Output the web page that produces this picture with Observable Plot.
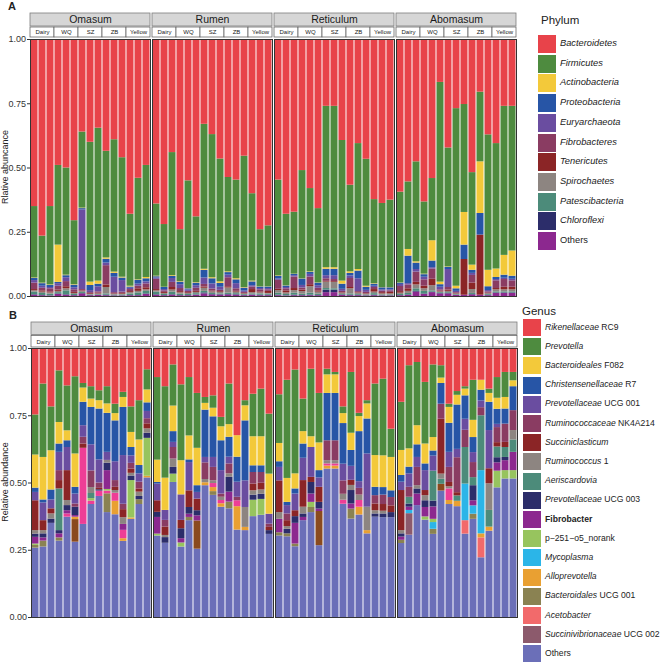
<!DOCTYPE html>
<html><head><meta charset="utf-8">
<script src="https://cdn.jsdelivr.net/npm/d3@7"></script>
<script src="https://cdn.jsdelivr.net/npm/@observablehq/plot@0.6"></script>
<style>
body{margin:0;background:#fff;font-family:"Liberation Sans",Arial,sans-serif;color:#222;}
#root{position:relative;width:666px;height:665px;overflow:hidden;background:#fff;}
.abs{position:absolute;}
.panel-tag{position:absolute;font-weight:bold;font-size:11px;}
.ylab{position:absolute;font-size:9px;transform:translate(-50%,-50%) rotate(-90deg);white-space:nowrap;}
.lg-title{position:absolute;font-size:11.5px;}
.sw{position:absolute;}
.lb{position:absolute;font-size:9.3px;white-space:nowrap;line-height:1;}
.lb.g{font-size:8.6px;}
</style></head>
<body><div id="root"></div>
<script>
const compartments = ["Omasum", "Rumen", "Reticulum", "Abomasum"];
const breeds = ["Dairy", "WQ", "SZ", "ZB", "Yellow"];

// ---- Panel A: phylum ----
const phyla = ["Bacteroidetes","Firmicutes","Actinobacteria","Proteobacteria","Euryarchaeota","Fibrobacteres","Tenericutes","Spirochaetes","Patescibacteria","Chloroflexi","Others"];
const phylaColors = ["#E8434A","#4E8B3F","#F3C93A","#2755A6","#6A4DA0","#8A3C62","#8B2526","#8D8581","#4C8B7A","#2C2D6A","#8C288F"];
const phylaItalic = [true,true,true,true,true,true,true,true,true,true,false];

// columns follow phyla order
const A_Omasum = [
[0.650,0.278,0.002,0.008,0.010,0.025,0.005,0.005,0.010,0.002,0.005],
[0.765,0.183,0.002,0.010,0.008,0.010,0.005,0.005,0.008,0.001,0.003],
[0.650,0.305,0.002,0.008,0.005,0.012,0.004,0.005,0.006,0.001,0.002],
[0.490,0.310,0.145,0.005,0.010,0.015,0.005,0.005,0.005,0.002,0.008],
[0.500,0.417,0.002,0.008,0.015,0.020,0.008,0.008,0.015,0.002,0.005],
[0.705,0.249,0.002,0.010,0.008,0.010,0.004,0.004,0.004,0.001,0.003],
[0.360,0.296,0.002,0.005,0.310,0.005,0.002,0.004,0.004,0.002,0.010],
[0.400,0.544,0.013,0.020,0.008,0.004,0.003,0.002,0.002,0.001,0.003],
[0.345,0.595,0.012,0.010,0.020,0.005,0.003,0.003,0.002,0.001,0.004],
[0.435,0.415,0.005,0.015,0.010,0.075,0.010,0.025,0.005,0.002,0.003],
[0.390,0.515,0.005,0.015,0.060,0.005,0.002,0.003,0.002,0.001,0.002],
[0.460,0.465,0.003,0.010,0.045,0.005,0.003,0.003,0.003,0.001,0.002],
[0.680,0.280,0.003,0.005,0.005,0.008,0.004,0.005,0.006,0.001,0.003],
[0.540,0.395,0.002,0.015,0.008,0.010,0.010,0.006,0.010,0.001,0.003],
[0.490,0.436,0.005,0.012,0.008,0.015,0.008,0.006,0.010,0.002,0.008]];
const A_Rumen = [
[0.640,0.281,0.002,0.005,0.005,0.040,0.005,0.005,0.010,0.002,0.005],
[0.720,0.244,0.001,0.008,0.005,0.006,0.004,0.004,0.004,0.001,0.003],
[0.440,0.479,0.003,0.008,0.015,0.020,0.010,0.008,0.010,0.002,0.005],
[0.740,0.202,0.002,0.010,0.015,0.012,0.005,0.005,0.005,0.001,0.003],
[0.550,0.419,0.001,0.005,0.005,0.005,0.003,0.004,0.004,0.001,0.003],
[0.690,0.256,0.002,0.010,0.010,0.012,0.004,0.005,0.005,0.001,0.005],
[0.330,0.564,0.004,0.030,0.025,0.010,0.005,0.012,0.006,0.004,0.010],
[0.370,0.557,0.004,0.020,0.020,0.008,0.003,0.006,0.004,0.002,0.006],
[0.465,0.478,0.006,0.015,0.012,0.005,0.003,0.006,0.003,0.002,0.005],
[0.537,0.367,0.003,0.010,0.010,0.035,0.005,0.020,0.005,0.002,0.006],
[0.547,0.384,0.004,0.015,0.020,0.010,0.003,0.006,0.004,0.002,0.005],
[0.454,0.511,0.002,0.012,0.005,0.004,0.002,0.003,0.003,0.001,0.003],
[0.600,0.340,0.003,0.015,0.005,0.010,0.012,0.005,0.004,0.001,0.005],
[0.740,0.222,0.001,0.006,0.005,0.008,0.004,0.004,0.005,0.002,0.003],
[0.725,0.237,0.001,0.006,0.005,0.006,0.008,0.003,0.004,0.002,0.003]];
const A_Reticulum = [
[0.547,0.373,0.002,0.010,0.005,0.035,0.005,0.010,0.008,0.002,0.003],
[0.680,0.278,0.001,0.006,0.005,0.008,0.008,0.006,0.005,0.001,0.002],
[0.672,0.241,0.001,0.005,0.005,0.045,0.008,0.010,0.008,0.002,0.003],
[0.510,0.421,0.001,0.025,0.010,0.008,0.006,0.010,0.005,0.001,0.003],
[0.580,0.324,0.002,0.008,0.010,0.030,0.008,0.025,0.008,0.002,0.003],
[0.658,0.289,0.001,0.010,0.010,0.010,0.005,0.008,0.005,0.001,0.003],
[0.260,0.628,0.006,0.025,0.012,0.010,0.003,0.025,0.006,0.010,0.015],
[0.260,0.628,0.006,0.025,0.015,0.008,0.003,0.025,0.005,0.010,0.015],
[0.393,0.547,0.012,0.020,0.008,0.005,0.002,0.005,0.002,0.002,0.004],
[0.567,0.337,0.006,0.010,0.010,0.035,0.005,0.020,0.005,0.002,0.003],
[0.405,0.490,0.006,0.030,0.050,0.004,0.002,0.005,0.003,0.002,0.003],
[0.466,0.494,0.004,0.012,0.008,0.005,0.002,0.004,0.002,0.001,0.002],
[0.623,0.327,0.002,0.008,0.005,0.008,0.010,0.006,0.006,0.002,0.003],
[0.638,0.327,0.001,0.008,0.005,0.006,0.005,0.004,0.003,0.001,0.002],
[0.625,0.340,0.001,0.008,0.004,0.006,0.006,0.004,0.003,0.001,0.002]];
const A_Abomasum = [
[0.594,0.353,0.001,0.005,0.008,0.020,0.006,0.005,0.004,0.001,0.003],
[0.554,0.263,0.026,0.107,0.005,0.015,0.010,0.008,0.006,0.002,0.004],
[0.476,0.389,0.005,0.025,0.010,0.040,0.010,0.015,0.010,0.003,0.017],
[0.632,0.281,0.002,0.010,0.010,0.025,0.010,0.010,0.010,0.002,0.008],
[0.541,0.242,0.079,0.026,0.005,0.040,0.025,0.020,0.005,0.002,0.015],
[0.167,0.777,0.010,0.010,0.010,0.005,0.003,0.003,0.003,0.002,0.010],
[0.422,0.463,0.002,0.008,0.070,0.010,0.005,0.005,0.003,0.002,0.010],
[0.269,0.691,0.010,0.010,0.005,0.003,0.002,0.003,0.002,0.001,0.004],
[0.253,0.420,0.127,0.056,0.000,0.000,0.139,0.000,0.000,0.000,0.005],
[0.518,0.360,0.020,0.012,0.008,0.030,0.025,0.015,0.004,0.002,0.006],
[0.205,0.271,0.201,0.084,0.000,0.000,0.234,0.000,0.000,0.000,0.005],
[0.371,0.527,0.064,0.015,0.005,0.005,0.002,0.003,0.003,0.002,0.003],
[0.405,0.488,0.033,0.008,0.005,0.030,0.005,0.008,0.004,0.002,0.012],
[0.260,0.580,0.077,0.012,0.005,0.030,0.010,0.008,0.004,0.002,0.012],
[0.260,0.563,0.098,0.012,0.006,0.025,0.010,0.008,0.004,0.002,0.012]];
const A_stackOrder = [10,9,8,7,6,5,4,3,2,1,0]; // bottom to top

// ---- Panel B: genus ----
const genera = ["Rikenellaceae RC9","Prevotella","Bacteroideales F082","Christensenellaceae R7","Prevotellaceae UCG 001","Ruminococcaceae NK4A214","Succiniclasticum","Ruminococcus 1","Aeriscardovia","Prevotellaceae UCG 003","Fibrobacter","p\u2212251\u2212o5_norank","Mycoplasma","Alloprevotella","Bacteroidales UCG 001","Acetobacter","Succinivibrionaceae UCG 002","Others","Unlisted genus (pink)","Unlisted genus (brown)"];
const generaColors = ["#E8434A","#4E8B3F","#F3C93A","#2755A6","#6A4DA0","#8A3C62","#8B2526","#8D8581","#4C8B7A","#2C2D6A","#8C288F","#97C45E","#2BB5E8","#E9A032","#8A8252","#F26A6B","#8C5A6C","#6B6FB8","#EE3E96","#8A4A1E"];
const generaItalic = ["Rikenellaceae","Prevotella","Bacteroideales","Christensenellaceae","Prevotellaceae","Ruminococcaceae","Succiniclasticum","Ruminococcus","Aeriscardovia","Prevotellaceae","","","Mycoplasma","Alloprevotella","Bacteroidales","Acetobacter","Succinivibrionaceae",""];
const generaBold = ["Fibrobacter"];
const generaInLegend = 18;

// columns follow genera order
const B_Omasum = [
[0.247,0.149,0.123,0.016,0.031,0,0.111,0.013,0,0.012,0.025,0.005,0,0,0.010,0,0,0.258,0,0],
[0.132,0.273,0.158,0.011,0.066,0,0.037,0.012,0,0.015,0.012,0,0,0,0.022,0,0,0.262,0,0],
[0.217,0.163,0.146,0.037,0.033,0,0.019,0.019,0,0.016,0,0,0,0,0,0,0,0.350,0,0],
[0.083,0.192,0.080,0.031,0.068,0.037,0.031,0,0.155,0.012,0.015,0,0,0,0.012,0,0,0.284,0,0],
[0.139,0.167,0.037,0.025,0.086,0,0.111,0.019,0,0.019,0.012,0,0,0,0,0,0,0.373,0.012,0],
[0.105,0.287,0.124,0.025,0.037,0.012,0,0,0,0.031,0.006,0,0,0.009,0,0,0,0.280,0,0.084],
[0.130,0.017,0.053,0.087,0.043,0.025,0.016,0,0,0,0,0,0,0,0,0,0,0.346,0.283,0],
[0.142,0.046,0.031,0.139,0.097,0.062,0,0.022,0.019,0,0,0.009,0,0,0,0,0,0.420,0.013,0],
[0.157,0.037,0.031,0.189,0.086,0.020,0.005,0,0,0.005,0,0,0,0,0,0,0,0.450,0.020,0],
[0.142,0.064,0.035,0.145,0.030,0,0,0.010,0,0.028,0.070,0.006,0,0,0.070,0,0,0.390,0.010,0],
[0.207,0.035,0.027,0.152,0.070,0.025,0.012,0.010,0,0,0,0,0,0.050,0,0,0,0.382,0.030,0],
[0.163,0.019,0.037,0.179,0.181,0.020,0.030,0.025,0,0,0.022,0,0,0.010,0,0,0,0.283,0.031,0],
[0.217,0.095,0.056,0.031,0.028,0.021,0.016,0.010,0,0.017,0,0.139,0,0.005,0,0,0,0.365,0,0],
[0.194,0.146,0.095,0.031,0.031,0.025,0.012,0.016,0,0.012,0,0,0,0,0.018,0,0,0.420,0,0],
[0.079,0.075,0.048,0.032,0.027,0.019,0.019,0.016,0,0.019,0,0.141,0,0.006,0,0,0,0.519,0,0]];
const B_Rumen = [
[0.108,0.307,0.083,0.006,0.062,0,0.043,0,0,0.019,0.062,0.007,0,0,0,0,0,0.303,0,0],
[0.142,0.340,0.120,0,0.037,0.025,0.031,0.008,0,0.021,0,0,0,0,0,0,0,0.276,0,0],
[0.061,0.153,0.095,0.040,0.019,0.043,0,0.031,0,0.025,0,0.031,0,0,0,0,0,0.502,0,0],
[0.135,0.282,0.127,0,0.095,0,0.031,0,0,0.037,0.016,0.015,0,0,0,0,0,0.262,0,0],
[0.108,0.217,0.089,0.010,0.105,0,0.062,0,0,0.025,0.012,0,0,0,0.012,0,0,0.360,0,0],
[0.167,0.204,0.139,0.025,0.025,0,0.043,0,0,0.019,0.019,0,0,0,0,0,0,0.254,0,0.105],
[0.182,0.022,0.025,0.176,0.020,0.062,0,0.012,0,0,0,0,0,0.011,0,0,0,0.490,0,0],
[0.176,0.046,0.032,0.151,0.037,0.050,0,0.010,0,0,0,0,0,0.015,0.014,0,0,0.454,0.015,0],
[0.256,0.035,0.052,0.111,0.087,0.012,0,0.012,0,0,0,0,0,0.013,0,0,0,0.410,0.012,0],
[0.132,0.151,0.047,0.074,0.025,0.037,0,0.012,0,0.056,0.037,0,0,0,0.025,0,0,0.404,0,0],
[0.324,0,0.080,0.093,0.056,0.013,0,0,0,0,0,0,0,0.087,0,0,0,0.325,0.022,0],
[0.194,0.019,0.056,0.223,0.099,0,0,0.074,0,0,0,0,0,0.012,0,0,0,0.323,0,0],
[0.170,0.158,0.108,0.025,0,0.043,0.025,0.016,0,0.019,0,0.061,0,0,0,0,0,0.375,0,0],
[0.151,0.177,0.108,0.025,0,0.040,0.025,0.016,0,0.019,0,0.059,0,0,0,0,0,0.380,0,0],
[0.244,0.223,0.149,0,0.037,0.012,0.012,0,0,0.014,0,0,0,0,0,0,0,0.309,0,0]];
const B_Reticulum = [
[0.172,0.181,0.068,0.021,0.050,0,0.118,0.025,0,0,0.050,0,0,0,0.012,0,0,0.303,0,0],
[0.118,0.365,0.089,0.012,0.031,0.025,0.022,0.010,0,0.017,0,0,0,0,0.011,0,0,0.300,0,0],
[0.080,0.386,0.056,0.019,0.062,0,0.022,0,0,0.025,0.077,0,0,0,0.010,0,0,0.263,0,0],
[0.188,0.121,0.046,0.053,0.083,0,0.099,0.025,0,0.013,0.012,0,0,0,0,0,0,0.360,0,0],
[0.077,0.251,0.040,0,0.111,0,0.019,0,0,0.043,0.031,0.019,0,0,0.019,0,0,0.390,0,0],
[0.167,0.184,0.103,0.027,0.035,0,0.056,0,0,0.025,0.009,0,0,0,0,0,0,0.267,0,0.127],
[0.077,0.021,0.069,0.176,0,0.074,0,0.012,0,0,0,0,0,0.011,0,0,0,0.552,0.008,0],
[0.089,0.009,0.069,0.176,0,0.074,0,0.012,0,0,0,0,0,0.011,0,0,0,0.552,0.008,0],
[0.217,0.025,0.037,0.151,0.062,0.050,0,0.022,0,0,0,0,0,0,0,0,0,0.421,0.015,0],
[0.089,0.226,0.064,0.059,0.052,0,0.019,0.019,0,0.050,0.019,0,0,0,0.037,0,0,0.366,0,0],
[0.241,0.012,0.056,0.186,0.025,0.025,0,0.020,0,0,0,0,0,0.029,0,0,0,0.381,0.025,0],
[0.194,0.012,0.056,0.130,0.198,0,0,0.087,0,0,0,0,0,0.012,0,0,0,0.311,0,0],
[0.132,0.266,0.118,0.031,0,0.031,0.025,0.012,0,0.012,0,0,0,0,0,0,0,0.373,0,0],
[0.114,0.285,0.118,0.028,0,0.035,0.025,0.010,0,0.014,0,0,0,0,0,0,0,0.371,0,0],
[0.300,0.105,0.124,0.025,0,0.031,0.025,0,0,0.019,0,0,0,0,0,0,0,0.371,0,0]];
const B_Abomasum = [
[0.200,0.179,0.093,0.025,0.031,0,0.149,0.012,0,0.012,0.012,0,0,0,0.012,0,0,0.275,0,0],
[0.064,0.309,0.068,0.025,0.050,0.037,0,0,0.025,0.012,0.012,0,0.012,0,0,0,0.080,0.306,0,0],
[0.052,0.235,0.071,0.047,0.037,0.068,0,0.012,0,0.019,0.043,0,0,0,0,0,0,0.416,0,0],
[0.126,0.229,0.074,0.025,0.074,0,0.019,0.019,0,0.025,0.035,0.012,0,0,0,0,0,0.362,0,0],
[0.061,0.270,0.050,0.019,0.056,0,0,0,0.111,0.022,0.046,0.012,0.025,0,0.019,0,0,0.309,0,0],
[0.064,0.046,0.020,0.077,0,0.056,0.204,0.019,0.019,0,0,0,0,0,0,0,0,0.470,0,0.025],
[0.207,0.012,0.059,0.108,0.056,0.056,0.016,0.008,0,0,0,0,0,0.015,0,0,0,0.420,0.043,0],
[0.160,0.014,0.036,0.165,0.031,0.130,0.012,0,0.020,0,0,0,0,0.020,0,0,0,0.412,0,0],
[0.142,0.009,0.025,0.087,0.041,0.064,0,0,0.136,0,0,0,0.136,0,0,0.050,0,0.310,0,0],
[0.118,0.149,0.064,0.056,0.037,0.056,0,0,0.030,0.056,0.019,0,0.031,0,0.019,0,0,0.365,0,0],
[0.118,0,0.037,0.040,0.025,0.030,0,0,0.204,0,0,0,0.235,0.015,0,0.074,0,0.222,0,0],
[0.151,0.016,0.033,0.105,0.142,0,0.056,0.099,0.062,0,0,0,0,0.015,0,0,0,0.321,0,0],
[0.108,0.077,0.041,0.056,0.012,0.056,0.016,0,0.040,0.019,0.031,0.062,0,0,0,0,0,0.482,0,0],
[0.089,0.093,0.043,0.056,0,0.068,0.019,0,0.037,0.012,0.037,0.031,0,0,0,0,0,0.515,0,0],
[0.089,0.031,0.022,0.089,0,0.074,0,0.035,0.046,0,0.068,0.031,0,0,0,0,0,0.515,0,0]];
const B_stackOrder = [17,19,16,15,14,13,18,12,11,10,9,8,7,6,5,4,3,2,1,0]; // bottom to top

// ---- build ----
function buildRows(tables, names, order) {
  const rows = [];
  compartments.forEach((c, ci) => {
    tables[ci].forEach((vals, i) => {
      order.forEach(k => { if (vals[k] > 0) rows.push({comp: c, idx: i, cat: names[k], value: vals[k]}); });
    });
  });
  return rows;
}

const FONT = '"Liberation Sans", Arial, sans-serif';

function panel(o) {
  const off = px => 1 + px / o.frameH;
  const groups = compartments.flatMap(c => breeds.map((b, g) => ({comp: c, g, b})));
  return Plot.plot({
    width: o.width, height: o.marginTop + o.frameH + o.marginBottom,
    marginLeft: o.marginLeft, marginRight: o.marginRight, marginTop: o.marginTop, marginBottom: o.marginBottom,
    style: {fontFamily: FONT, fontSize: "9px", color: "#333", background: "transparent", overflow: "visible"},
    fx: {domain: compartments, paddingInner: 0.017, paddingOuter: 0, axis: null, label: null},
    x: {domain: [0, 15], axis: null},
    y: {domain: [0, 1], ticks: [0, 0.25, 0.5, 0.75, 1], tickFormat: d3.format(".2f"), tickSize: 3, tickPadding: 1.5, label: null},
    color: {domain: o.names, range: o.colors},
    marks: [
      Plot.rectY(o.rows, {fx: "comp", x1: "idx", x2: d => d.idx + 1, y: "value", fill: "cat", insetLeft: 0.5, insetRight: 0.5}),
      Plot.frame({stroke: "#333", strokeWidth: 1}),
      Plot.rect(compartments, {fx: d => d, x1: () => 0, x2: () => 15, y1: () => off(o.gray[0]), y2: () => off(o.gray[1]), fill: "#d6d6d6", stroke: "#7d7d7d", strokeWidth: 0.8}),
      Plot.text(compartments, {fx: d => d, x: () => 7.5, y: () => off((o.gray[0] + o.gray[1]) / 2), text: d => d, fontSize: 10.5, fill: "#1a1a1a"}),
      Plot.rect(groups, {fx: "comp", x1: d => d.g * 3, x2: d => d.g * 3 + 3, y1: () => off(o.white[0]), y2: () => off(o.white[1]), fill: "white", stroke: "#555", strokeWidth: 0.7}),
      Plot.text(groups, {fx: "comp", x: d => d.g * 3 + 1.5, y: () => off((o.white[0] + o.white[1]) / 2), text: "b", fontSize: 6, fill: "#222"})
    ]
  });
}

const root = document.getElementById("root");

function place(el, left, top) {
  const d = document.createElement("div");
  d.className = "abs"; d.style.left = left + "px"; d.style.top = top + "px";
  d.appendChild(el); root.appendChild(d);
}

const rowsA = buildRows([A_Omasum, A_Rumen, A_Reticulum, A_Abomasum], phyla, A_stackOrder);
const rowsB = buildRows([B_Omasum, B_Rumen, B_Reticulum, B_Abomasum], genera, B_stackOrder);

place(panel({rows: rowsA, names: phyla, colors: phylaColors, width: 520, marginLeft: 28, marginRight: 3, marginTop: 39, frameH: 257, marginBottom: 9, gray: [13, 26], white: [2, 12]}), 0, 0);
place(panel({rows: rowsB, names: genera, colors: generaColors, width: 520, marginLeft: 30, marginRight: 3, marginTop: 38, frameH: 269, marginBottom: 6, gray: [13.5, 26], white: [1, 12.5]}), 0, 310);

function addText(cls, html, left, top) {
  const d = document.createElement("div");
  d.className = cls; d.innerHTML = html; d.style.left = left + "px"; d.style.top = top + "px";
  root.appendChild(d); return d;
}
addText("panel-tag", "A", 8, 0);
addText("panel-tag", "B", 9, 309);
addText("ylab", "Rlative abuncance", 4.5, 167);
addText("ylab", "Relative abundance", 4.5, 482);

function legend(o) {
  addText("lg-title", o.title, o.titleLeft, o.titleTop);
  o.labels.forEach((lab, i) => {
    const top = o.top + i * o.pitch;
    const s = document.createElement("div");
    s.className = "sw";
    Object.assign(s.style, {left: o.left + "px", top: top + "px", width: o.w + "px", height: o.h + "px", background: o.colors[i]});
    root.appendChild(s);
    addText(o.cls, lab, o.labelLeft, top + o.h / 2 - 5);
  });
}
const phylaLabels = phyla.map((p, i) => phylaItalic[i] ? `<i>${p}</i>` : p);
legend({title: "Phylum", titleLeft: 541, titleTop: 14, left: 538, top: 35, pitch: 19.7, w: 18, h: 18, labelLeft: 560, labels: phylaLabels, colors: phylaColors, cls: "lb"});

const generaLabels = genera.slice(0, generaInLegend).map((g, i) => {
  if (generaBold.includes(g)) return `<b>${g}</b>`;
  const it = generaItalic[i];
  if (!it) return g;
  return `<i>${it}</i>${g.slice(it.length)}`;
});
legend({title: "Genus", titleLeft: 522, titleTop: 305, left: 523, top: 319, pitch: 19.2, w: 18, h: 17, labelLeft: 545, labels: generaLabels, colors: generaColors, cls: "lb g"});
</script>
</body></html>
